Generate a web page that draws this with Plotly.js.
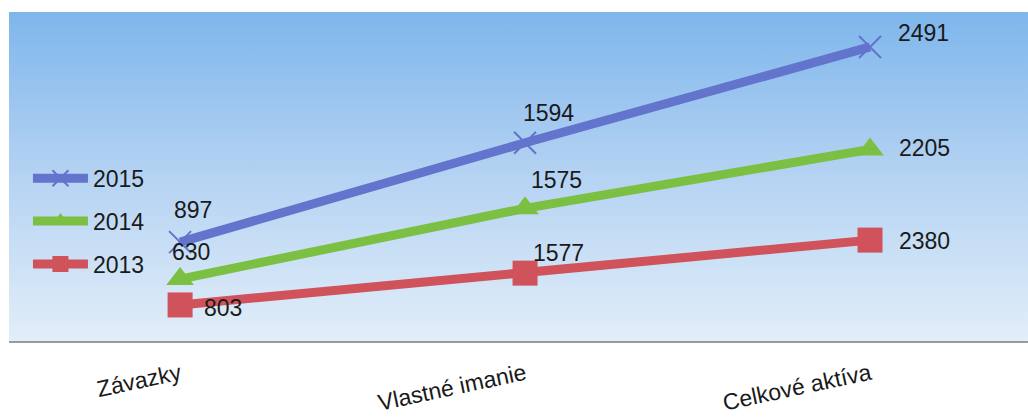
<!DOCTYPE html>
<html>
<head>
<meta charset="utf-8">
<script src="https://cdn.plot.ly/plotly-3.0.1.min.js"></script>
<style>
  html, body { margin: 0; padding: 0; background: #ffffff; }
  #chart { width: 1028px; height: 417px; }
</style>
</head>
<body>
<div id="chart"></div>
<script>
// ---- data ----
var categories = ["Závazky", "Vlastné imanie", "Celkové aktíva"];
var years = ["2013", "2014", "2015"];
var values2013 = [803, 1577, 2380];
var values2014 = [630, 1575, 2205];
var values2015 = [897, 1594, 2491];

// ---- styles ----
var seriesValues = [values2013, values2014, values2015];
var colors = ["#d0525a", "#7bc043", "#6274cc"];
var symbols = ["square", "triangle-up", "x-thin"];
var markerSizes = [25, 24, 22];
// label offsets (px) per series, per category
var labelShiftX = [[43, 33, 54], [11, 31, 54], [13, 23, 53]];
var labelShiftY = [[-3, 20, -1], [27, 28, 1], [32, 30, 14]];

var font = "Liberation Sans, Arial, sans-serif";
var traces = [];
var annotations = [];
var cumulative = [0, 0, 0];
for (var s = 0; s < seriesValues.length; s++) {
  var vals = seriesValues[s];
  traces.push({
    type: "scatter",
    x: categories,
    y: vals,
    name: years[s],
    stackgroup: "one",
    fill: "none",
    mode: "lines+markers",
    legendgroup: years[s],
    legendrank: 3 - s,
    line: { color: colors[s], width: 9 },
    marker: {
      symbol: symbols[s],
      size: markerSizes[s],
      color: colors[s],
      line: { color: colors[s], width: s === 2 ? 2 : 0 }
    },
    hoverinfo: "name+y"
  });
  for (var i = 0; i < vals.length; i++) {
    cumulative[i] += vals[i];
    annotations.push({
      x: categories[i],
      y: cumulative[i],
      xref: "x", yref: "y",
      text: String(vals[i]),
      showarrow: false,
      xshift: labelShiftX[s][i],
      yshift: labelShiftY[s][i],
      font: { family: font, size: 23, color: "#1a1a1a" }
    });
  }
}

var gradSvg = "<svg xmlns='http://www.w3.org/2000/svg' width='100' height='100' preserveAspectRatio='none'>" +
  "<defs><linearGradient id='g' x1='0' y1='0' x2='0' y2='1'>" +
  "<stop offset='0' stop-color='#7eb6ec'/>" +
  "<stop offset='0.45' stop-color='#b0d0f2'/>" +
  "<stop offset='1' stop-color='#e2eef9'/>" +
  "</linearGradient></defs><rect width='100' height='100' fill='url(#g)'/></svg>";

var layout = {
  width: 1028,
  height: 417,
  margin: { l: 9, r: 0, t: 12, b: 76 },
  paper_bgcolor: "#ffffff",
  plot_bgcolor: "rgba(0,0,0,0)",
  font: { family: font, size: 23, color: "#1a1a1a" },
  showlegend: true,
  legend: {
    x: 0.0186, y: 0.56,
    xanchor: "left", yanchor: "top",
    bgcolor: "rgba(0,0,0,0)",
    traceorder: "grouped",
    tracegroupgap: 10,
    itemwidth: 55,
    font: { family: font, size: 23, color: "#1a1a1a" }
  },
  xaxis: {
    type: "category",
    range: [-0.496, 2.458],
    showgrid: false,
    zeroline: false,
    showline: true,
    linecolor: "#9a9a9a",
    linewidth: 2,
    ticks: "",
    tickangle: -12,
    ticklabelstandoff: 9,
    tickfont: { family: font, size: 23, color: "#1a1a1a" }
  },
  yaxis: {
    range: [-73, 7926],
    showgrid: false,
    zeroline: false,
    showline: false,
    showticklabels: false,
    ticks: ""
  },
  images: [{
    source: "data:image/svg+xml;charset=utf-8," + encodeURIComponent(gradSvg),
    xref: "paper", yref: "paper",
    x: 0, y: 1, sizex: 1, sizey: 1,
    xanchor: "left", yanchor: "top",
    sizing: "stretch",
    layer: "below"
  }],
  annotations: annotations
};

Plotly.newPlot("chart", traces, layout, { displayModeBar: false, staticPlot: true });
</script>
</body>
</html>
